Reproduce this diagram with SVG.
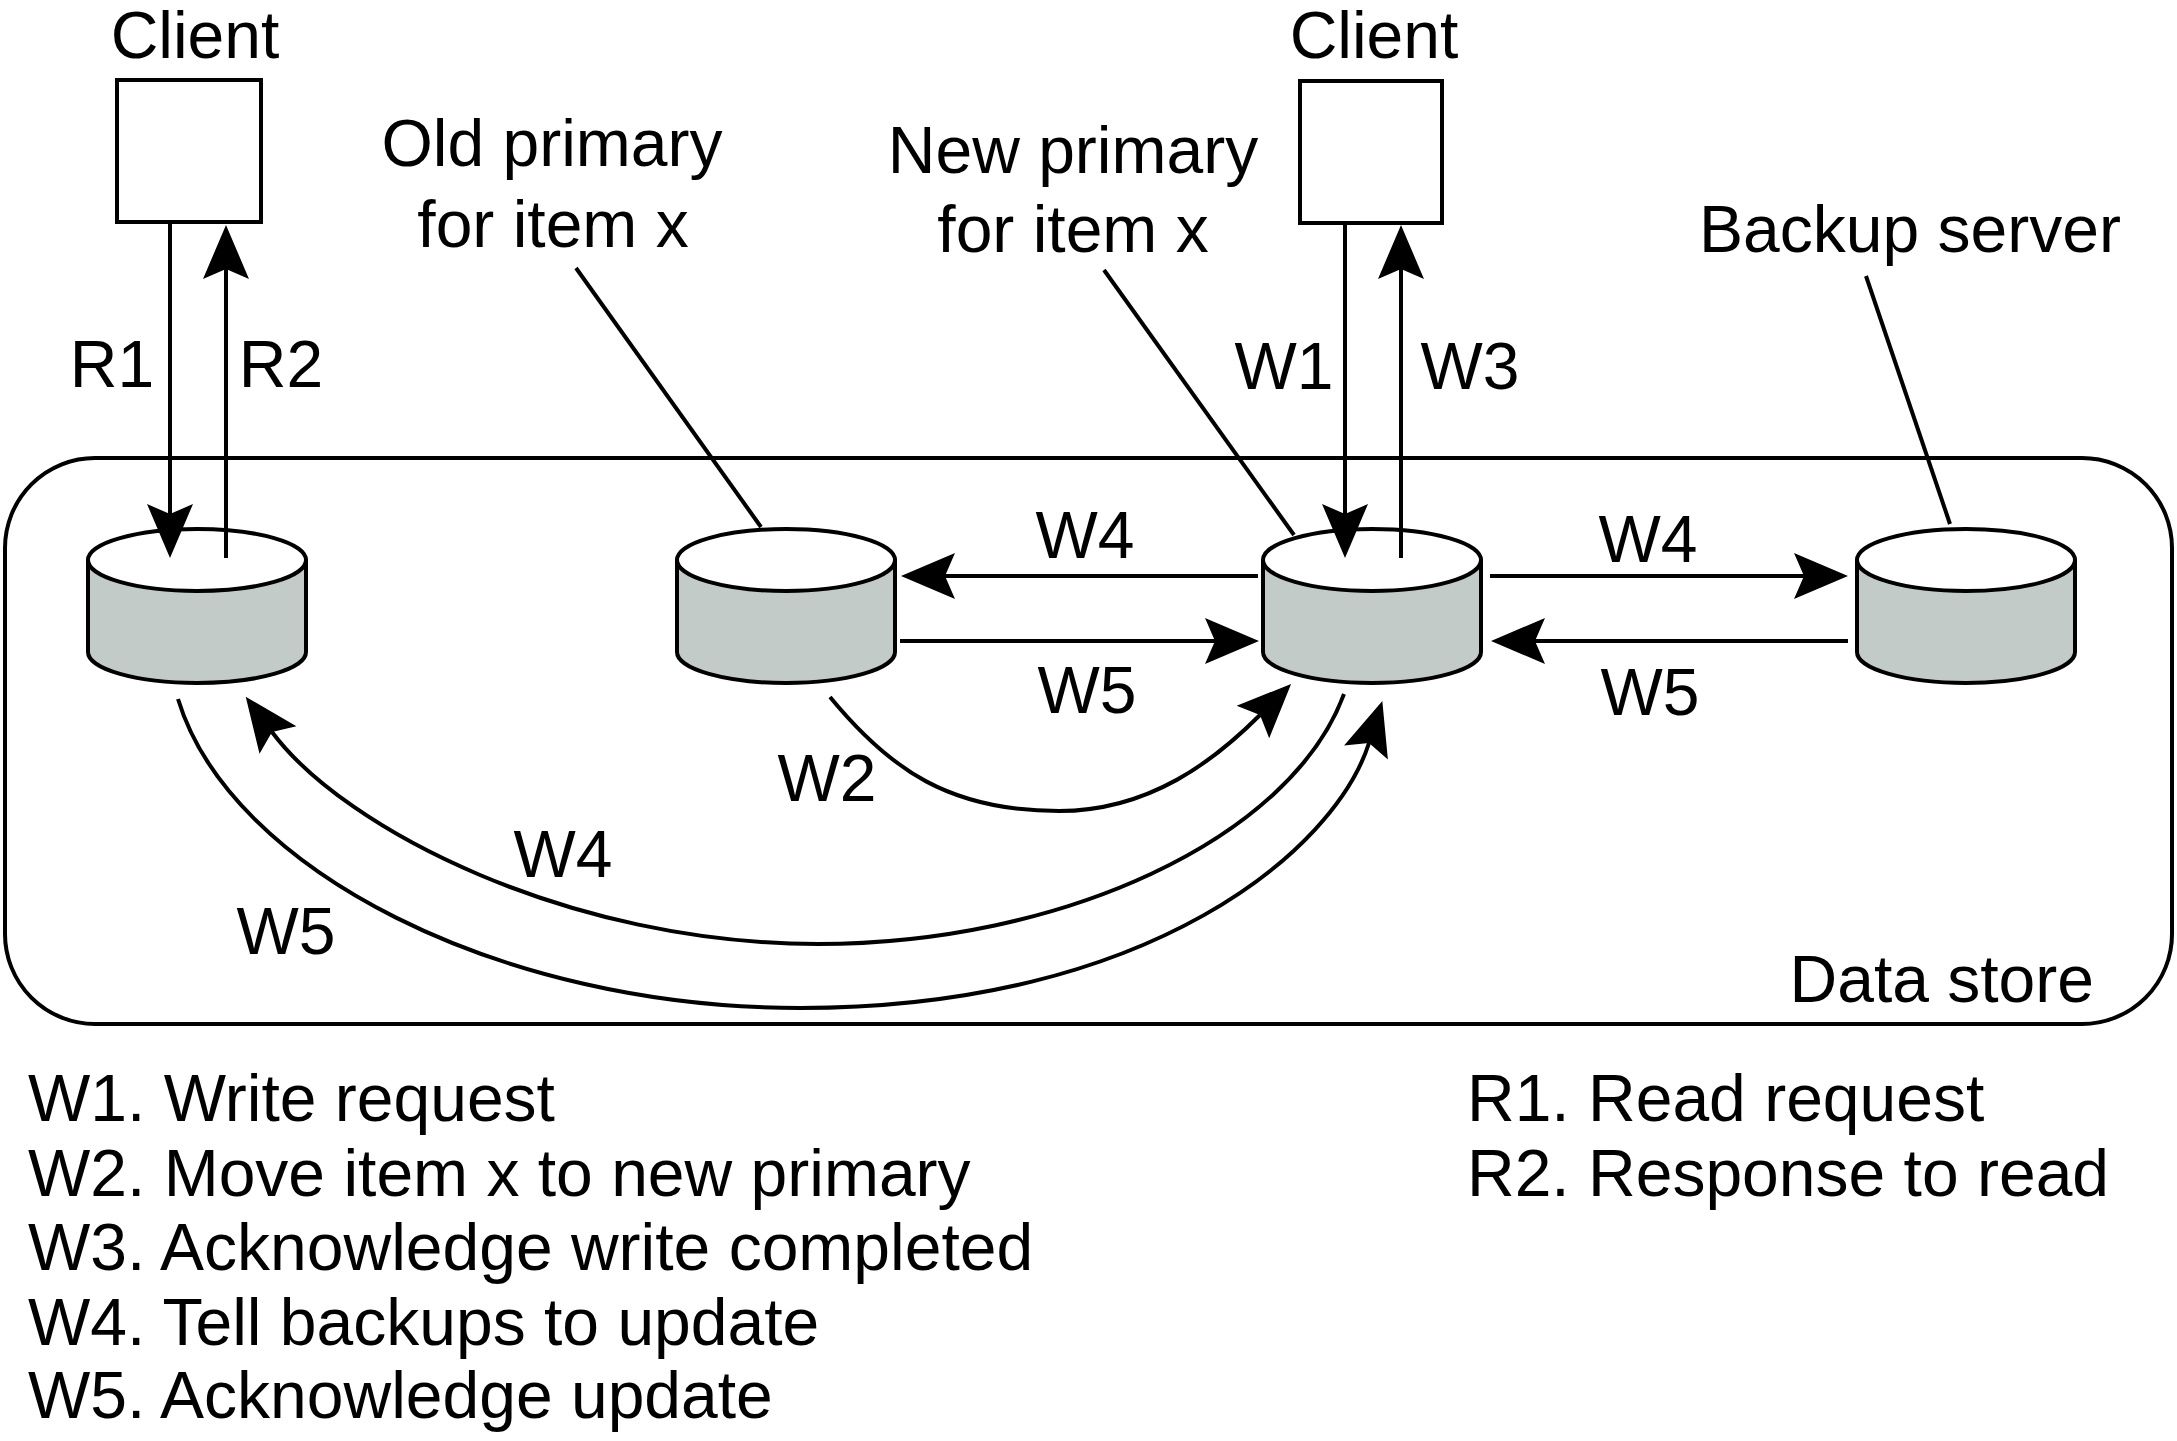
<svg xmlns="http://www.w3.org/2000/svg" width="2177" height="1441" viewBox="0 0 2177 1441">
<style>
text{font-family:"Liberation Sans",Arial,sans-serif;font-size:66px;fill:#000}
.c{text-anchor:middle}
.ln{fill:none;stroke:#000;stroke-width:4}
.box{fill:#fff;stroke:#000;stroke-width:4}
.body{fill:#c3cbc9;stroke:#000;stroke-width:4;stroke-linejoin:round}
.top{fill:#fff;stroke:#000;stroke-width:4}
.arr{fill:none;stroke:#000;stroke-width:4;marker-end:url(#ah)}
</style>
<defs>
<marker id="ah" markerUnits="userSpaceOnUse" viewBox="-56 -25 60 50" markerWidth="60" markerHeight="50" refX="-44" refY="0" orient="auto">
<path d="M0,0 L-54,-23 L-44,0 L-54,23 Z" fill="#000"/>
</marker>
<g id="cyl">
<path class="body" d="M-109,560 L-109,652 A109,31 0 0 0 109,652 L109,560 Z"/>
<ellipse class="top" cx="0" cy="560" rx="109" ry="31"/>
</g>
</defs>
<rect width="2177" height="1441" fill="#fff"/>

<g id="data-store">
<rect x="5" y="458" width="2167" height="566" rx="90" ry="90" fill="none" stroke="#000" stroke-width="4"/>
<text x="2094" y="1002" text-anchor="end">Data store</text>
</g>

<g id="client-left">
<rect class="box" x="117" y="80" width="144" height="142"/>
<text class="c" x="195" y="58">Client</text>
</g>
<g id="client-right">
<rect class="box" x="1300" y="81" width="142" height="142"/>
<text class="c" x="1374" y="58">Client</text>
</g>

<g id="server-a"><use href="#cyl" x="197"/></g>
<g id="server-old-primary">
<use href="#cyl" x="786"/>
<text class="c" x="552" y="166">Old primary</text>
<text class="c" x="553" y="247">for item x</text>
<line class="ln" x1="576" y1="268" x2="761" y2="527" stroke-width="3.5"/>
</g>
<g id="server-new-primary">
<use href="#cyl" x="1372"/>
<text class="c" x="1073" y="173">New primary</text>
<text class="c" x="1073" y="252">for item x</text>
<line class="ln" x1="1104" y1="270" x2="1294" y2="535" stroke-width="3.5"/>
</g>
<g id="server-backup">
<use href="#cyl" x="1966"/>
<text class="c" x="1910" y="252">Backup server</text>
<line class="ln" x1="1866" y1="276" x2="1950" y2="524" stroke-width="3.5"/>
</g>

<g id="connectors">
<path class="arr" d="M170,222 L170,514"/>
<path class="arr" d="M226,558 L226,269"/>
<path class="arr" d="M1345,223 L1345,514"/>
<path class="arr" d="M1401,558 L1401,269"/>
<path class="arr" d="M1258,576 L945,576"/>
<path class="arr" d="M900,641 L1215,641"/>
<path class="arr" d="M1490,576 L1804,576"/>
<path class="arr" d="M1848,641 L1535,641"/>
<path class="arr" d="M830,697 C890,770 950,811 1059,811 C1150,811 1215,760 1260,715"/>
<path class="arr" d="M1344,694 C1290,840 1060,944 818,944 C570,944 345,830 272,732"/>
<path class="arr" d="M178,699 C230,870 500,1008 800,1008 C1150,1008 1335,850 1369,743"/>
</g>

<g id="connector-labels">
<text class="c" x="112" y="387">R1</text>
<text class="c" x="281" y="387">R2</text>
<text class="c" x="1284" y="389">W1</text>
<text class="c" x="1470" y="389">W3</text>
<text class="c" x="1085" y="558">W4</text>
<text class="c" x="1087" y="713">W5</text>
<text class="c" x="1648" y="562">W4</text>
<text class="c" x="1650" y="715">W5</text>
<text class="c" x="827" y="801">W2</text>
<text class="c" x="563" y="877">W4</text>
<text class="c" x="286" y="954">W5</text>
</g>

<g id="legend">
<text x="28" y="1121">W1. Write request</text>
<text x="28" y="1196">W2. Move item x to new primary</text>
<text x="28" y="1270">W3. Acknowledge write completed</text>
<text x="28" y="1345">W4. Tell backups to update</text>
<text x="28" y="1418">W5. Acknowledge update</text>
<text x="1467" y="1121">R1. Read request</text>
<text x="1467" y="1196">R2. Response to read</text>
</g>
</svg>
